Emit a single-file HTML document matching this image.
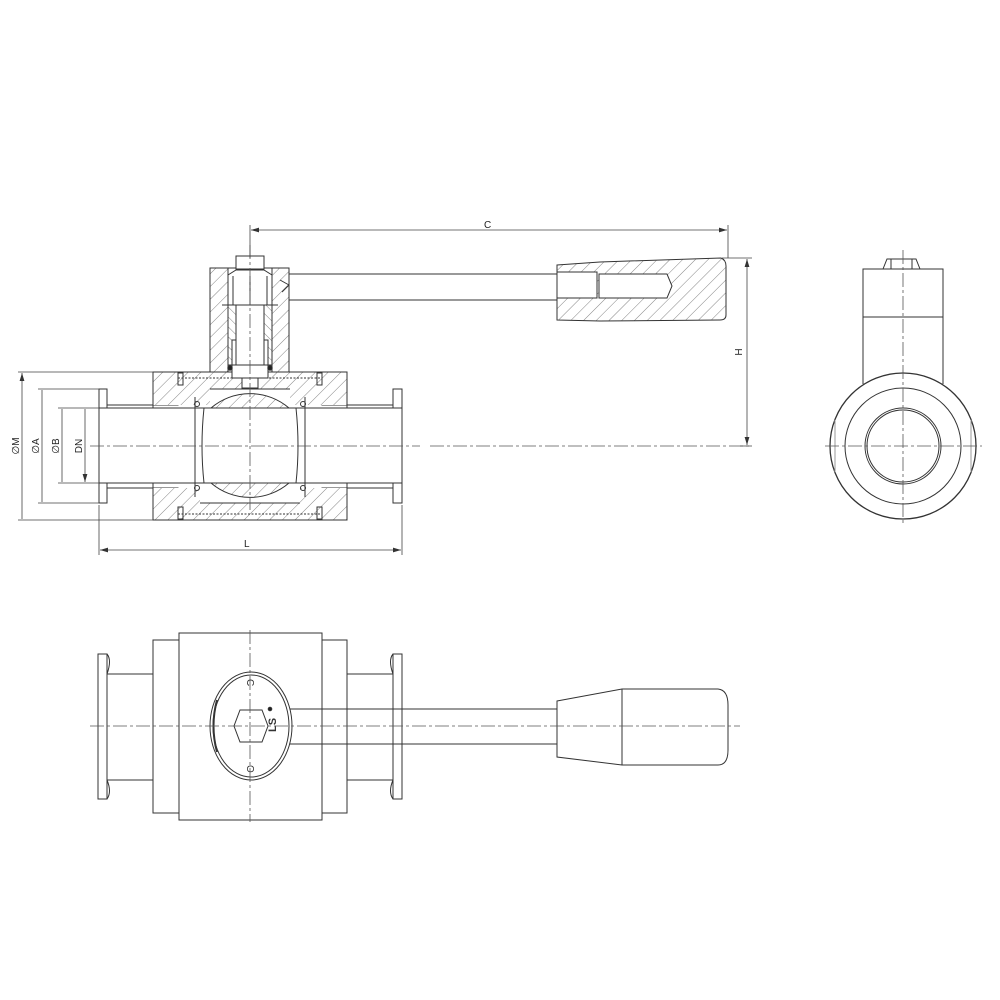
<!DOCTYPE html>
<html><head><meta charset="utf-8"><style>html,body{margin:0;padding:0;background:#fff}svg{display:block}</style></head>
<body>
<svg width="1000" height="1000" viewBox="0 0 1000 1000" xmlns="http://www.w3.org/2000/svg" font-family="Liberation Sans, sans-serif">
<defs>
<pattern id="h" width="9" height="9" patternUnits="userSpaceOnUse" patternTransform="rotate(45)"><rect width="9" height="9" fill="#fff"/><line x1="0" y1="0" x2="0" y2="9" stroke="#666" stroke-width="0.8"/></pattern>
<pattern id="h2" width="7" height="7" patternUnits="userSpaceOnUse" patternTransform="rotate(-45)"><rect width="7" height="7" fill="#fff"/><line x1="0" y1="0" x2="0" y2="7" stroke="#666" stroke-width="0.8"/></pattern>
<marker id="a" viewBox="0 0 10 6" refX="10" refY="3" markerWidth="10" markerHeight="6" orient="auto-start-reverse"><path d="M0,0L10,3L0,6z" fill="#333"/></marker>
</defs>
<g fill="none" stroke="#333" stroke-width="1">
<!-- ===== Section view ===== -->
<!-- body halves hatched -->
<path d="M153,372H347V405H322V389H178V405H153Z" fill="url(#h)"/>
<path d="M153,520H347V488H322V503H178V488H153Z" fill="url(#h)"/>
<path d="M153,372V405H107V389H99V408H153" fill="#fff"/>
<path d="M153,520V488H107V503H99V483H153" fill="#fff"/>
<path d="M347,372V405H393V389H402V408H347" fill="#fff"/>
<path d="M347,520V488H393V503H402V483H347" fill="#fff"/>
<!-- body side areas hatched -->
<path d="M153,372H210V405H153Z" fill="url(#h)" stroke="none"/>
<path d="M290,372H347V405H290Z" fill="url(#h)" stroke="none"/>
<path d="M153,488H200V520H153Z" fill="url(#h)" stroke="none"/>
<path d="M300,488H347V520H300Z" fill="url(#h)" stroke="none"/>
<path d="M153,372H347V520H153Z"/>
<path d="M99,389H107V405H153M99,503H107V488H153M402,389H393V405H347M402,503H393V488H347"/>
<path d="M99,389V503M402,389V503M107,389V503M393,389V503"/>
<!-- end caps / threads -->
<path d="M178,378H322M178,514H322" stroke-dasharray="2,1.5"/>
<rect x="178" y="373" width="5" height="12"/><rect x="317" y="373" width="5" height="12"/>
<rect x="178" y="507" width="5" height="12"/><rect x="317" y="507" width="5" height="12"/>
<!-- bore -->
<rect x="99" y="408" width="303" height="75" fill="#fff"/>
<path d="M99,408H402M99,483H402"/>
<!-- seats -->
<path d="M195,397V497M305,397V497"/>
<circle cx="197" cy="404" r="2.5"/><circle cx="303" cy="404" r="2.5"/>
<circle cx="197" cy="488" r="2.5"/><circle cx="303" cy="488" r="2.5"/>
<!-- ball -->
<path d="M211,408A60,60 0 0 1 289,408Z" fill="url(#h)"/>
<path d="M211,483A60,60 0 0 0 289,483Z" fill="url(#h)"/>
<path d="M204,408Q200,446 204,483M296,408Q300,446 296,483"/>
<!-- bonnet -->
<path d="M210,268H289V372H272V318H228V372H210Z" fill="url(#h)"/>
<rect x="228" y="268" width="44" height="50" fill="#fff"/>
<rect x="228" y="318" width="44" height="54" fill="#fff"/>
<path d="M228,305H272M233,276V305M267,276V305M250,276V305M228,275L236,270H264L272,275"/>
<rect x="236" y="256" width="28" height="13" fill="#fff"/>
<!-- bushing -->
<path d="M222,305H236V340H232V365H228V305Z" fill="url(#h2)"/>
<path d="M278,305H264V340H268V365H272V305Z" fill="url(#h2)"/>
<rect x="236" y="305" width="28" height="60" fill="#fff"/>
<path d="M232,365H268V378H232Z" fill="#fff"/>
<circle cx="230" cy="368" r="2.2" fill="#222"/><circle cx="270" cy="368" r="2.2" fill="#222"/>
<rect x="242" y="378" width="16" height="10" fill="#fff"/>
<path d="M289,285L280,280M289,285L282,292"/>
<!-- handle bar -->
<path d="M289,274H557M289,300H557"/>
<!-- grip section -->
<path d="M557,265L600,262L721,258Q726,260 726,266V315Q726,320 720,320L600,321L557,320Z" fill="url(#h)"/>
<path d="M557,272H597V298H557Z" fill="#fff"/>
<path d="M599,274H667L672,286L667,298H599Z" fill="#fff"/>
<!-- ===== side view ===== -->
<rect x="863" y="269" width="80" height="48" fill="#fff"/>
<path d="M863,317V384M943,317V384"/>
<path d="M883,269L887,259H916L920,269M891,259V269M912,259V269"/>
<circle cx="903" cy="446" r="73" stroke-width="1.3"/>
<circle cx="903" cy="446" r="58"/>
<circle cx="903" cy="446" r="38"/>
<circle cx="903" cy="446" r="36"/>
<path d="M835,420V472M971,420V472" stroke="#999"/>
<!-- ===== bottom view ===== -->
<rect x="179" y="633" width="143" height="187"/>
<path d="M179,640H153V813H179M322,640H347V813H322"/>
<path d="M153,640V674H107M153,813V780H107M347,640V674H393M347,813V780H393"/>
<path d="M98,654H107V799H98Z"/><path d="M393,654H402V799H393Z"/>
<path d="M107,674Q112,660 107,654M107,780Q112,792 107,799M393,674Q388,660 393,654M393,780Q388,792 393,799"/>
<path d="M290,709H557M290,744H557"/>
<ellipse cx="251" cy="726" rx="41" ry="54" fill="#fff"/>
<ellipse cx="251" cy="726" rx="38" ry="51"/>
<path d="M240,710H262L268,726L262,742H240L234,726Z" fill="#fff"/>
<path d="M217,700Q210,726 217,752" stroke-width="2"/>
<text x="246" y="686" font-size="10" stroke="none" fill="#333" transform="rotate(90 250 683)">C</text>
<text x="246" y="772" font-size="10" stroke="none" fill="#333" transform="rotate(90 250 769)">O</text>
<circle cx="270" cy="709" r="1.8" fill="#222"/>
<text x="266" y="730" font-size="11" font-weight="bold" stroke="none" fill="#333" transform="rotate(-90 272 726)">LS</text>
<path d="M557,701L622,689H718Q728,690 728,705V750Q728,765 718,765H622L557,757Z" fill="#fff"/>
<path d="M622,689V765"/>
</g>
<!-- centerlines -->
<g stroke="#555" stroke-width="0.8" stroke-dasharray="14,3,3,3" fill="none">
<path d="M90,446H420M430,446H750"/>
<path d="M250,245V510"/>
<path d="M903,250V525M825,446H982"/>
<path d="M90,726H740"/>
<path d="M250,630V822"/>
</g>
<!-- dimensions -->
<g stroke="#444" stroke-width="0.8" fill="none">
<path d="M18,372H153M38,389H99M58,408H99M80,408H99M58,483H99M38,503H99M18,520H153"/>
<path d="M22,373V519M42,390V502M62,409V482M85,409V482" marker-start="url(#a)" marker-end="url(#a)"/>
<path d="M99,505V555M402,505V555"/>
<path d="M100,550H401" marker-start="url(#a)" marker-end="url(#a)"/>
<path d="M250,225V258M728,225V258"/>
<path d="M251,230H727" marker-start="url(#a)" marker-end="url(#a)"/>
<path d="M722,258H752M740,446H752"/>
<path d="M747,259V445" marker-start="url(#a)" marker-end="url(#a)"/>
</g>
<g font-size="10" fill="#222">
<text x="484" y="228">C</text>
<text x="244" y="547">L</text>
<text transform="translate(742,352) rotate(-90)" text-anchor="middle">H</text>
<text transform="translate(19,446) rotate(-90)" text-anchor="middle">∅M</text>
<text transform="translate(39,446) rotate(-90)" text-anchor="middle">∅A</text>
<text transform="translate(59,446) rotate(-90)" text-anchor="middle">∅B</text>
<text transform="translate(82,446) rotate(-90)" text-anchor="middle">DN</text>
</g>
</svg>
</body></html>
